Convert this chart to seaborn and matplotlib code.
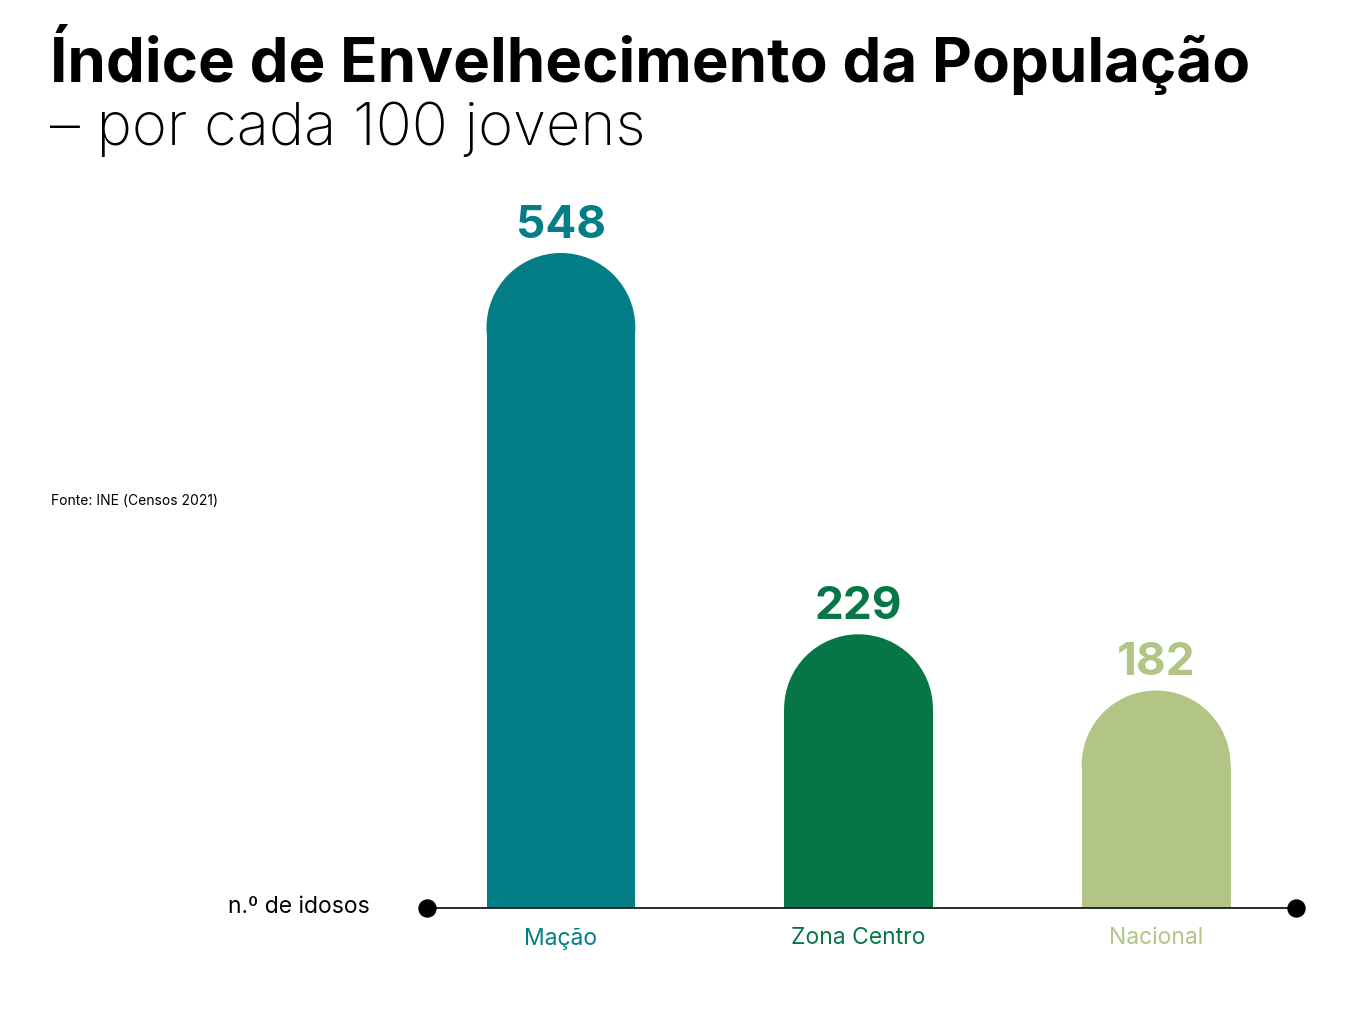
import matplotlib
matplotlib.use('Agg')
import matplotlib.pyplot as plt
from matplotlib.patches import Ellipse
import seaborn as sns
import pandas as pd

# Dados (INE, Censos 2021)
categorias = ['Mação', 'Zona Centro', 'Nacional']
valores = [548, 229, 182]
cores = ['#037E86', '#077647', '#B2C585']

sns.set_theme(style='white')
plt.rcParams['font.family'] = ['Inter', 'DejaVu Sans']

df = pd.DataFrame({'regiao': categorias, 'indice': valores})

fig = plt.figure(figsize=(13.65, 10.24), dpi=100)
ax = fig.add_axes([427 / 1365, 1 - 908 / 1024, (1296 - 427) / 1365, (908 - 253) / 1024])

sns.barplot(data=df, x='regiao', y='indice', hue='regiao', palette=cores,
            width=0.5, legend=False, ax=ax, saturation=1)
ax.set_xlim(-0.45, 2.47)
ax.set_ylim(0, max(valores))

# topo arredondado: encurtar o retangulo e pôr um semicirculo em cima
fig.canvas.draw()
px_x = ax.transData.transform([(1, 0)])[0][0] - ax.transData.transform([(0, 0)])[0][0]
px_y = ax.transData.transform([(0, 1)])[0][1] - ax.transData.transform([(0, 0)])[0][1]
for p in list(ax.patches):
    x, w, h = p.get_x(), p.get_width(), p.get_height()
    cor = p.get_facecolor()
    ry = (w / 2) * px_x / px_y
    p.set_height(h - ry)
    p.set_edgecolor('none')
    ax.add_patch(Ellipse((x + w / 2, h - ry), w, 2 * ry, facecolor=cor,
                         edgecolor='none'))
    ax.annotate(f'{int(round(h))}', (x + w / 2, h), xytext=(0, 11),
                textcoords='offset points', ha='center', va='baseline',
                fontsize=33, fontweight='bold', color=cor,
                annotation_clip=False)

# linha de base com pontos
xl = ax.get_xlim()
ax.plot(xl, [0, 0], color='#1a1a1a', lw=1.3, clip_on=False, zorder=5)
ax.scatter(xl, [0, 0], s=150, color='black', clip_on=False, zorder=6)

sns.despine(ax=ax, left=True, bottom=True)
ax.set_yticks([])
ax.set_xlabel('')
ax.set_ylabel('')
ax.tick_params(axis='x', length=0, pad=14)
for lbl, c in zip(ax.get_xticklabels(), cores):
    lbl.set_color(c)
    lbl.set_fontsize(16.5)

fig.text(370 / 1365, 1 - 913 / 1024, 'n.º de idosos', ha='right', va='baseline',
         fontsize=16.5, color='black')
fig.text(51 / 1365, 1 - 505 / 1024, 'Fonte: INE (Censos 2021)', ha='left',
         va='baseline', fontsize=10, color='black')

fig.text(50 / 1365, 1 - 82 / 1024, 'Índice de Envelhecimento da População',
         ha='left', va='baseline', fontsize=44.5, fontweight='bold', color='black')
fig.text(50 / 1365, 1 - 145 / 1024, '– por cada 100 jovens', ha='left',
         va='baseline', fontsize=43, fontweight='light', color='black')

fig.savefig('out.png', dpi=100)
